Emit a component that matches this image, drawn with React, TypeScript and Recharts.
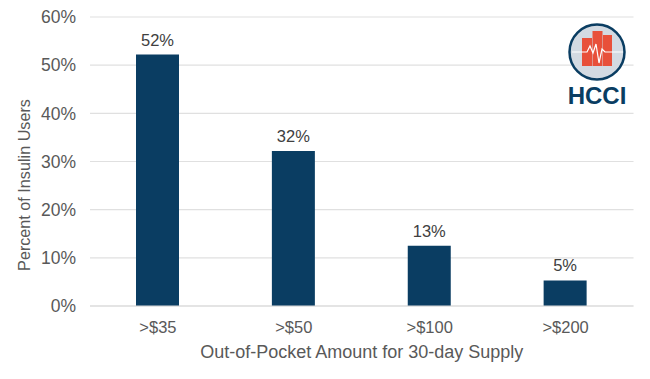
import React from 'react';
import { BarChart, Bar, XAxis, YAxis, CartesianGrid, LabelList } from 'recharts';

const categories = ['>$35', '>$50', '>$100', '>$200'];
const percentUsers = [52.2, 32.2, 12.5, 5.3];
const yTicks = [0, 10, 20, 30, 40, 50, 60];

const chartData = categories.map((name, i) => ({ name, value: percentUsers[i] }));

const FONT = 'Liberation Sans, Arial, sans-serif';
const NAVY = '#0a3d62';
const TEXT = '#595959';

const Logo = () => (
  <svg width={70} height={90} viewBox="0 0 70 90" style={{ position: 'absolute', left: 563, top: 20 }}>
    <circle cx={34} cy={32} r={27.5} fill="#d3dae2" stroke={NAVY} strokeWidth={2.5} />
    <rect x={19} y={18} width={10} height={28} fill="#e8503a" />
    <rect x={29.5} y={11} width={10} height={35} fill="#e8503a" />
    <rect x={40} y={15} width={9} height={31} fill="#e8503a" />
    <polyline
      points="9,32 24,32 27,26 30,33 33,24 36,43 39,29 42,32 60,32"
      fill="none"
      stroke="#fff"
      strokeWidth={1.2}
    />
    <text x={34} y={84} textAnchor="middle" fontFamily={FONT} fontWeight={700} fontSize={24} fill={NAVY}>
      HCCI
    </text>
  </svg>
);

const YTitle = () => (
  <text
    transform="translate(30,185) rotate(-90)"
    textAnchor="middle"
    fontFamily={FONT}
    fontSize={16.2}
    fill={TEXT}
  >
    Percent of Insulin Users
  </text>
);

export default function App() {
  return (
    <div style={{ position: 'absolute', left: 0, top: 0, width: 650, height: 379, background: '#fff' }}>
      <BarChart
        width={650}
        height={379}
        data={chartData}
        margin={{ top: 17, right: 16.5, bottom: 0, left: 0 }}
      >
        <CartesianGrid vertical={false} stroke="#e0e0e0" strokeWidth={1.2} />
        <XAxis
          dataKey="name"
          axisLine={{ stroke: '#d9d9d9', strokeWidth: 1.2 }}
          tickLine={false}
          tick={{ fontSize: 16.5, fill: TEXT, fontFamily: FONT }}
          tickMargin={9}
          height={73}
          label={{
            value: 'Out-of-Pocket Amount for 30-day Supply',
            position: 'insideTop',
            offset: 39,
            style: { fontSize: 18, fill: TEXT, fontFamily: FONT },
          }}
        />
        <YAxis
          width={90}
          domain={[0, 60]}
          ticks={yTicks}
          tickFormatter={(v: number) => `${v}%`}
          axisLine={false}
          tickLine={false}
          tick={{ fontSize: 17.5, fill: TEXT, fontFamily: FONT }}
          tickMargin={8}
          label={<YTitle />}
        />
        <Bar dataKey="value" fill={NAVY} barSize={43} isAnimationActive={false}>
          <LabelList
            dataKey="value"
            position="top"
            offset={9}
            formatter={(v: number) => `${Math.round(v)}%`}
            style={{ fontSize: 16.5, fill: '#404040', fontFamily: FONT }}
          />
        </Bar>
      </BarChart>
      <Logo />
    </div>
  );
}
